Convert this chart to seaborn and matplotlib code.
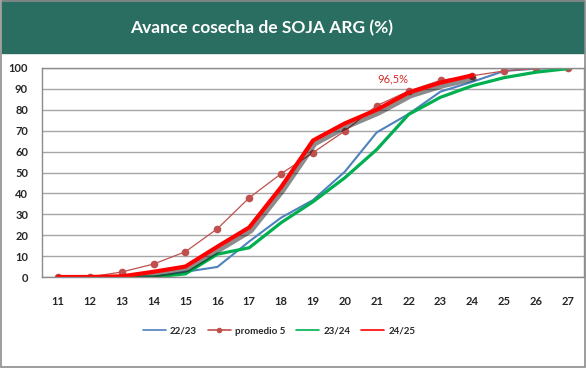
# Avance cosecha de SOJA ARG (%) - recreated with seaborn
import pandas as pd
import numpy as np
import matplotlib.pyplot as plt
import matplotlib.patheffects as pe
from matplotlib.patches import Rectangle
from matplotlib.lines import Line2D
import seaborn as sns

# Data (weeks and % harvested)
semanas = list(range(11, 28))
camp_2223 = [0, 0, 0, 0, 2.5, 4.8, 17, 28.4, 36.8, 50.4, 69.2, 78, 88.7, 93.4, 98.6, 99.7, 100]
promedio5 = [0, 0, 2.4, 6.2, 12.1, 23.1, 37.9, 49.4, 59.5, 69.9, 82, 89, 94.1, 96.3, 98.6, 99.8, 100]
camp_2324 = [0, 0, 0, 0, 1.5, 10.9, 14, 26, 36, 47.5, 61, 77.8, 86, 91.5, 95.4, 98, 99.7]
semanas_2425 = list(range(11, 25))
camp_2425 = [0, 0, 0.3, 2.5, 5, 14.5, 23.7, 43, 65.3, 73.5, 80, 88.2, 93, 96.5]
y_ticks = list(range(0, 101, 10))

colores = {"22/23": "#4f81bd", "promedio 5": "#c0504d", "23/24": "#00b050", "24/25": "#ff0000"}

sns.set_style("white")
plt.rcParams["font.family"] = ["Lato", "DejaVu Sans"]

fig = plt.figure(figsize=(5.86, 3.68), dpi=100)
ax = fig.add_axes([42 / 586, 1 - 277 / 368, 542 / 586, 209 / 368])

# title banner
fig.patches.append(Rectangle((2 / 586, 1 - 53 / 368), 582 / 586, 53 / 368,
                             transform=fig.transFigure, color="#2a6e62", zorder=0))
fig.text(262 / 586, 1 - 28 / 368, "Avance cosecha de SOJA ARG (%)", color="white",
         fontsize=12.5, fontweight="bold", ha="center", va="center")
# outer frame
fig.patches.append(Rectangle((1 / 586, 1 / 368), 584 / 586, 366 / 368, transform=fig.transFigure,
                             fill=False, edgecolor="#8c8c8c", linewidth=1.2, zorder=0))

sns.lineplot(x=semanas, y=camp_2223, ax=ax, color=colores["22/23"], linewidth=1.5)
sns.lineplot(x=semanas, y=promedio5, ax=ax, color=colores["promedio 5"], linewidth=0.9, marker="o",
             markersize=5.5, markeredgewidth=0)
sns.lineplot(x=semanas, y=camp_2324, ax=ax, color=colores["23/24"], linewidth=2.3)
sns.lineplot(x=semanas_2425, y=camp_2425, ax=ax, color=colores["24/25"], linewidth=3,
             path_effects=[pe.SimpleLineShadow(offset=(1.5, -2.5), shadow_color="black", alpha=0.45,
                                               linewidth=3.2),
                           pe.Normal()])

# label for the latest value
ax.text(21.5, 94.7, "96,5%", color="#d42a2a", fontsize=8, ha="center", va="center")

ax.set_xlim(10.5, 27.5)
ax.set_ylim(0, 100)
ax.set_xticks(semanas)
ax.set_yticks(y_ticks)
ax.set_xticklabels(semanas, fontsize=8, fontweight="bold")
ax.set_yticklabels(y_ticks, fontsize=8, fontweight="bold")
ax.tick_params(axis="x", length=0, pad=14)
ax.tick_params(axis="y", length=0, pad=10)
ax.yaxis.grid(True, color="#a6a6a6", linewidth=1)
ax.set_axisbelow(True)
for s in ax.spines.values():
    s.set_color("#8c8c8c")
    s.set_linewidth(1)

handles = [
    Line2D([], [], color=colores["22/23"], linewidth=1.2),
    Line2D([], [], color=colores["promedio 5"], linewidth=1.2, marker="o", markersize=4, markeredgewidth=0),
    Line2D([], [], color=colores["23/24"], linewidth=1.2),
    Line2D([], [], color=colores["24/25"], linewidth=1.2),
]
ax.legend(handles, list(colores.keys()), loc="center", bbox_to_anchor=((279 - 42) / 542, -(331 - 277) / 209),
          ncol=4, frameon=False, prop={"size": 7, "weight": "bold"}, handlelength=2.4,
          columnspacing=1.1, handletextpad=0.4)

fig.savefig("out.png", dpi=100)
